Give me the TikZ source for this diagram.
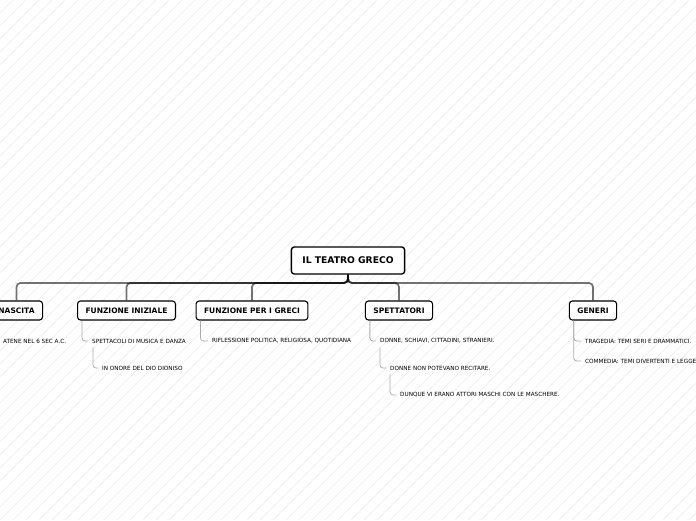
\documentclass[tikz,border=0pt]{standalone}
\usepackage{fontspec}
\setmainfont{DejaVu Sans}
\usetikzlibrary{positioning}
\definecolor{hatchgray}{RGB}{234,234,234}
\definecolor{leafgray}{RGB}{170,170,170}

\begin{document}
\begin{tikzpicture}[
    x=1pt, y=-1pt,
    rootbox/.style={draw,rounded corners=3pt,line width=1.4pt,fill=white,font=\fontsize{9.2}{10}\selectfont\bfseries,inner xsep=11pt,minimum height=27pt},
    topicbox/.style={draw,rounded corners=3pt,line width=1.1pt,fill=white,font=\fontsize{7.5}{8}\selectfont\bfseries,inner xsep=8pt,minimum height=19pt},
    leaf/.style={anchor=west,inner sep=0pt,font=\fontsize{5.7}{6}\selectfont},
    branch/.style={draw=black,draw opacity=0.55,line width=1.8pt,rounded corners=4pt},
    twig/.style={draw=leafgray,line width=0.8pt,rounded corners=3pt}
]
\useasboundingbox (0,0) rectangle (696,520);
\clip (0,0) rectangle (696,520);
% background hatching
\foreach \i in {-40,...,54}
  \draw[hatchgray,line width=0.5pt] (\i*13,520) -- (\i*13+520,0);

% main topic
\node[rootbox] (root) at (348,260.5) {IL TEATRO GRECO};

% subtopics
\node[topicbox] (nascita) at (16.5,310.5) {NASCITA};
\node[topicbox] (iniziale) at (126.5,310.5) {FUNZIONE INIZIALE};
\node[topicbox] (greci) at (252,310.5) {FUNZIONE PER I GRECI};
\node[topicbox] (spett) at (399,310.5) {SPETTATORI};
\node[topicbox] (generi) at (593,310.5) {GENERI};

\foreach \t in {nascita,iniziale,greci,spett,generi}
  \draw[branch] (root.south) -- (root.south |- 0,283) -- (\t.north |- 0,283) -- (\t.north);

% leaves
\node[leaf] (nas1) at (3,341) {ATENE NEL 6 SEC A.C.};
\node[leaf] (ini1) at (92,341) {SPETTACOLI DI MUSICA E DANZA};
\node[leaf] (ini2) at (102,368) {IN ONORE DEL DIO DIONISO};
\node[leaf] (gre1) at (212,341) {RIFLESSIONE POLITICA, RELIGIOSA, QUOTIDIANA};
\node[leaf] (spe1) at (380,341) {DONNE, SCHIAVI, CITTADINI, STRANIERI.};
\node[leaf] (spe2) at (390,368) {DONNE NON POTEVANO RECITARE.};
\node[leaf] (spe3) at (400,395) {DUNQUE VI ERANO ATTORI MASCHI CON LE MASCHERE.};
\node[leaf] (gen1) at (585,341) {TRAGEDIA: TEMI SERI E DRAMMATICI.};
\node[leaf] (gen2) at (585,361) {COMMEDIA: TEMI DIVERTENTI E LEGGERI};

\draw[twig] ([xshift=5pt]iniziale.south west) |- ([xshift=-4pt]ini1.west);
\draw[twig] ([xshift=1pt,yshift=-4pt]ini1.south west) |- ([xshift=-4pt]ini2.west);
\draw[twig] ([xshift=5pt]greci.south west) |- ([xshift=-4pt]gre1.west);
\draw[twig] ([xshift=5pt]spett.south west) |- ([xshift=-4pt]spe1.west);
\draw[twig] ([xshift=0pt,yshift=-4pt]spe1.south west) |- ([xshift=-4pt]spe2.west);
\draw[twig] ([xshift=0pt,yshift=-4pt]spe2.south west) |- ([xshift=-4pt]spe3.west);
\draw[twig] ([xshift=5pt]generi.south west) |- ([xshift=-4pt]gen1.west);
\draw[twig] ([xshift=5pt]generi.south west) |- ([xshift=-4pt]gen2.west);
\end{tikzpicture}
\end{document}
